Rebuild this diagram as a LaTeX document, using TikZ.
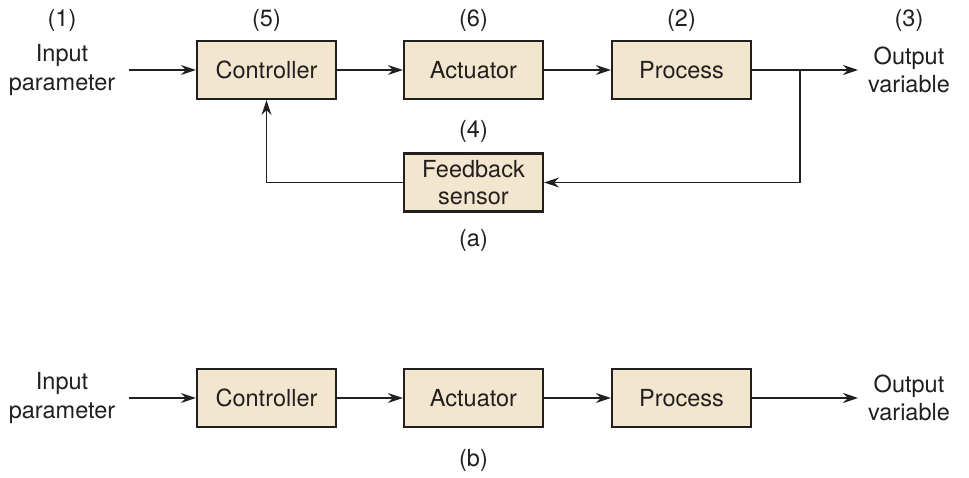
\documentclass[tikz,border=0pt]{standalone}
\usepackage{fontspec}
\setmainfont{TeX Gyre Heros}
\usetikzlibrary{arrows.meta}
\definecolor{boxfill}{RGB}{242,230,207}
\definecolor{ink}{RGB}{35,31,32}
\begin{document}
\begin{tikzpicture}[x=1pt,y=-1pt,
  blk/.style={draw=ink,line width=2.2pt,fill=boxfill,minimum width=139pt,minimum height=58pt,inner sep=0pt,font=\fontsize{23.5}{27}\selectfont,text=ink,align=center},
  lbl/.style={font=\fontsize{23.5}{28.5}\selectfont,text=ink,align=center,inner sep=0pt},
  conn/.style={draw=ink,line width=1.4pt,-{Stealth[length=15pt,width=10pt,inset=5pt]}},
  wire/.style={draw=ink,line width=1.4pt}]
\useasboundingbox (0,0) rectangle (969,477);
% (a)
\node[blk] (ctrl) at (266.5,70) {Controller};
\node[blk] (act) at (473.5,70) {Actuator};
\node[blk] (proc) at (681.5,70) {Process};
\node[blk] (fb) at (473.5,182.5) {Feedback\\sensor};
\node[lbl] (n1) at (62,20) {(1)};
\node[lbl] (in) at (62,70) {Input\\parameter};
\node[lbl] (n5) at (266.5,20) {(5)};
\node[lbl] (n6) at (473.5,20) {(6)};
\node[lbl] (n2) at (681.5,20) {(2)};
\node[lbl] (n3) at (909,20) {(3)};
\node[lbl] (out) at (909,70) {Output\\variable};
\node[lbl] (n4) at (473.5,131) {(4)};
\node[lbl] (la) at (473.5,240) {(a)};
\coordinate (inA) at (129,70);
\coordinate (outA) at (858,70);
\coordinate (br) at (800,70);
\draw[conn] (inA) -- (ctrl.west);
\draw[conn] (ctrl.east) -- (act.west);
\draw[conn] (act.east) -- (proc.west);
\draw[conn] (proc.east) -- (outA);
\draw[conn] (br) |- (fb.east);
\draw[conn] (fb.west) -| (ctrl.south);
% (b)
\node[blk] (ctrlb) at (266.5,398) {Controller};
\node[blk] (actb) at (473.5,398) {Actuator};
\node[blk] (procb) at (681.5,398) {Process};
\node[lbl] (inb) at (62,398) {Input\\parameter};
\node[lbl] (outb) at (909,398) {Output\\variable};
\node[lbl] (lb) at (473.5,460) {(b)};
\coordinate (inB) at (129,398);
\coordinate (outB) at (858,398);
\draw[conn] (inB) -- (ctrlb.west);
\draw[conn] (ctrlb.east) -- (actb.west);
\draw[conn] (actb.east) -- (procb.west);
\draw[conn] (procb.east) -- (outB);
\end{tikzpicture}
\end{document}
